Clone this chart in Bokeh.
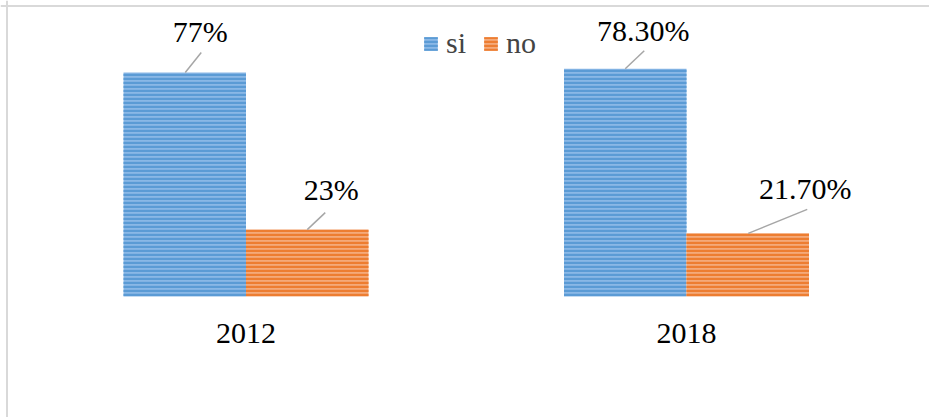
import numpy as np
from bokeh.plotting import figure
from bokeh.models import ColumnDataSource, Legend, LegendItem, Range1d, Span
from bokeh.core.properties import value
from bokeh.embed import file_html
from bokeh.resources import INLINE

# ---- data ----
categories = ["2012", "2018"]
si_values = [77.0, 78.3]
no_values = [23.0, 21.7]
si_labels = ["77%", "78.30%"]
no_labels = ["23%", "21.70%"]

# ---- style / layout ----
W, H = 929, 417
px_x = 440.5
px_y = 2.909
X_START = -245.5 / px_x
X_END = X_START + W / px_x
Y_END = 296 / px_y
Y_START = Y_END - H / px_y
BAR_W = 122.5 / px_x
FONT = "Liberation Serif"
FS = 30
ADV = {"%": 0.833, ".": 0.25}

def half_width(s):
    return sum(ADV.get(c, 0.5) for c in s) * FS / 2

si_label_off = [(15.5, 41.5), (18, 38)]
no_label_off = [(24, 40.5), (57.5, 45)]
si_leader = [(0.5, 16.5, 20), (0, 19, 18)]
no_leader = [(0, 18, 17), (0.5, 59.5, 24)]

p = figure(width=W, height=H, x_range=Range1d(X_START, X_END), y_range=Range1d(Y_START, Y_END),
           output_backend="svg", toolbar_location=None, min_border=0,
           outline_line_color=None, background_fill_color="white")
p.axis.visible = False
p.grid.visible = False

idx = np.arange(len(categories))
si_x = idx - BAR_W / 2
no_x = idx + BAR_W / 2

r_si = p.vbar(x=si_x, top=si_values, width=BAR_W, bottom=0, fill_color="#8AB8E6", line_color=None,
              hatch_pattern="horizontal_line", hatch_color="#5B9BD5", hatch_scale=4, hatch_weight=2.4)
r_no = p.vbar(x=no_x, top=no_values, width=BAR_W, bottom=0, fill_color="#F4AA7A", line_color=None,
              hatch_pattern="horizontal_line", hatch_color="#ED7D31", hatch_scale=4, hatch_weight=2.4)

def leaders(xs, vals, specs):
    x0 = [x + s[0] / px_x for x, s in zip(xs, specs)]
    x1 = [x + s[1] / px_x for x, s in zip(xs, specs)]
    y1 = [v + s[2] / px_y for v, s in zip(vals, specs)]
    p.segment(x0=x0, y0=vals, x1=x1, y1=y1, line_color="#A6A6A6", line_width=1.5)

leaders(si_x, si_values, si_leader)
leaders(no_x, no_values, no_leader)

# data labels
for xs, vals, labs, offs in [(si_x, si_values, si_labels, si_label_off),
                             (no_x, no_values, no_labels, no_label_off)]:
    src = ColumnDataSource(dict(x=list(xs), y=list(vals), t=labs,
                                dx=[o[0] - half_width(t) for o, t in zip(offs, labs)],
                                dy=[-o[1] for o in offs]))
    p.text(x="x", y="y", text="t", x_offset="dx", y_offset="dy", source=src,
           text_font=value(FONT), text_font_size=f"{FS}px", text_baseline="middle")

# category labels
cat_src = ColumnDataSource(dict(x=list(idx), y=[-36.5 / px_y] * len(categories), t=categories,
                                dx=[-half_width(c) for c in categories]))
p.text(x="x", y="y", text="t", x_offset="dx", source=cat_src,
       text_font=value(FONT), text_font_size=f"{FS}px", text_baseline="middle")

# border (top and left)
p.add_layout(Span(location=Y_END - 5.5 / px_y, dimension="width", line_color="#D9D9D9", line_width=2))
p.add_layout(Span(location=X_START + 6.5 / px_x, dimension="height", line_color="#D9D9D9", line_width=2))

legend = Legend(items=[LegendItem(label="si", renderers=[r_si]), LegendItem(label="no", renderers=[r_no])],
                orientation="horizontal", location=(422, H - 60), glyph_width=17, glyph_height=17,
                label_standoff=7, spacing=16, padding=0, margin=0, border_line_color=None,
                background_fill_alpha=0, label_text_font=FONT, label_text_font_size=f"{FS}px",
                label_height=17)
p.add_layout(legend)

open("out.html", "w").write(file_html(p, INLINE))
